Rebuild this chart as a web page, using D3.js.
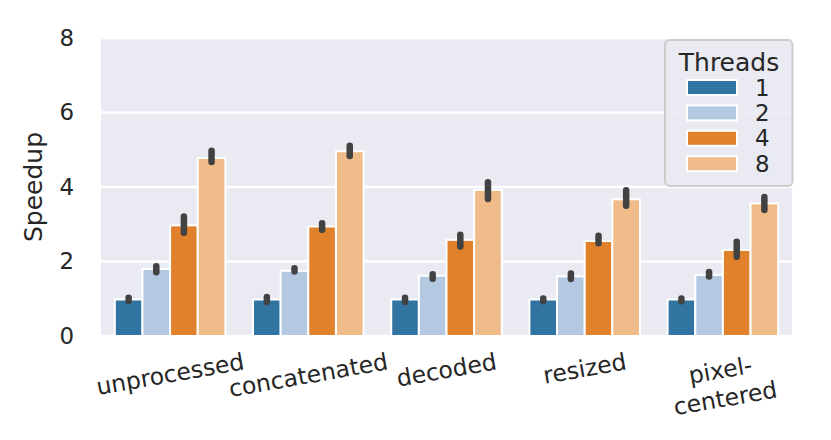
<!DOCTYPE html>
<html>
<head>
<meta charset="utf-8">
<script src="https://cdn.jsdelivr.net/npm/d3@7"></script>
<style>
  body { margin: 0; background: #fff; }
  text { font-family: "DejaVu Sans", sans-serif; fill: #262626; }
</style>
</head>
<body>
<div id="chart-area"></div>
<script>
// data
const stages = ["unprocessed", "concatenated", "decoded", "resized", "pixel-\ncentered"]
const threads = ["1", "2", "4", "8"]
const yTicks = [0, 2, 4, 6, 8]

const speedup1 = [0.98, 0.98, 0.98, 0.98, 0.98]
const speedup2 = [1.80, 1.75, 1.62, 1.60, 1.64]
const speedup4 = [2.97, 2.94, 2.58, 2.55, 2.31]
const speedup8 = [4.78, 4.96, 3.92, 3.67, 3.56]

const errLow1 = [0.94, 0.91, 0.91, 0.93, 0.93]
const errHigh1 = [1.03, 1.05, 1.03, 1.01, 1.01]
const errLow2 = [1.71, 1.73, 1.54, 1.53, 1.60]
const errHigh2 = [1.87, 1.82, 1.66, 1.68, 1.72]
const errLow4 = [2.77, 2.85, 2.40, 2.49, 2.13]
const errHigh4 = [3.21, 3.03, 2.72, 2.69, 2.53]
const errLow8 = [4.67, 4.83, 3.68, 3.50, 3.38]
const errHigh8 = [4.97, 5.11, 4.13, 3.91, 3.73]

const colors = ["#3274a1", "#b4c8e2", "#e1812c", "#eebb89"]

const series = [speedup1, speedup2, speedup4, speedup8]
const lows = [errLow1, errLow2, errLow4, errLow8]
const highs = [errHigh1, errHigh2, errHigh4, errHigh8]

const data = []
stages.forEach((s, i) => {
    threads.forEach((t, j) => {
        data.push({stage: s, thread: t, value: series[j][i], lo: lows[j][i], hi: highs[j][i]})
    })
})

const MARGIN = {LEFT: 101, RIGHT: 39, TOP: 38, BOTTOM: 104}
const W = 831, H = 440
const WIDTH = W - MARGIN.LEFT - MARGIN.RIGHT
const HEIGHT = H - MARGIN.TOP - MARGIN.BOTTOM

const svg = d3.select("#chart-area").append("svg")
    .attr("width", W)
    .attr("height", H)

const g = svg.append("g")
    .attr("transform", `translate(${MARGIN.LEFT}, ${MARGIN.TOP})`)

// background
g.append("rect")
    .attr("width", WIDTH)
    .attr("height", HEIGHT)
    .attr("fill", "#eaeaf2")

const x = d3.scaleBand()
    .domain(stages)
    .range([0, WIDTH])
    .paddingInner(0.2)
    .paddingOuter(0.1)

const x1 = d3.scaleBand()
    .domain(threads)
    .range([0, x.bandwidth()])

const y = d3.scaleLinear()
    .domain([0, 8])
    .range([HEIGHT, 0])

const color = d3.scaleOrdinal().domain(threads).range(colors)

// grid
g.selectAll(".grid").data(yTicks).enter().append("line")
    .attr("x1", 0).attr("x2", WIDTH)
    .attr("y1", d => y(d)).attr("y2", d => y(d))
    .attr("stroke", "#fff")
    .attr("stroke-width", 2.5)

// y axis labels
const yAxis = g.append("g").call(d3.axisLeft(y).tickValues(yTicks).tickSize(0).tickPadding(27))
yAxis.select(".domain").remove()
yAxis.selectAll("text")
    .attr("font-size", "22.9px")
    .attr("font-family", "DejaVu Sans")
    .attr("fill", "#262626")

// bars
g.selectAll(".bar").data(data).enter().append("rect")
    .attr("x", d => x(d.stage) + x1(d.thread))
    .attr("y", d => y(d.value))
    .attr("width", x1.bandwidth())
    .attr("height", d => HEIGHT - y(d.value))
    .attr("fill", d => color(d.thread))
    .attr("stroke", "#fff")
    .attr("stroke-width", 2)

// error bars
g.selectAll(".err").data(data).enter().append("line")
    .attr("x1", d => x(d.stage) + x1(d.thread) + x1.bandwidth() / 2)
    .attr("x2", d => x(d.stage) + x1(d.thread) + x1.bandwidth() / 2)
    .attr("y1", d => y(d.lo))
    .attr("y2", d => y(d.hi))
    .attr("stroke", "#424242")
    .attr("stroke-width", 6.5)
    .attr("stroke-linecap", "round")

// x labels, rotated 10 degrees
const lineH = 28.5
stages.forEach(s => {
    const lines = s.split("\n")
    const lg = g.append("g")
    const t = lg.append("text")
        .attr("text-anchor", "middle")
        .attr("font-size", "23.5px")
    lines.forEach((l, k) => {
        t.append("tspan")
            .attr("x", 0)
            .attr("y", (k - (lines.length - 1) / 2) * lineH)
            .attr("dy", "0.35em")
            .text(l)
    })
    let w = 0
    t.selectAll("tspan").each(function() { w = Math.max(w, this.getComputedTextLength()) })
    const a = 10 * Math.PI / 180
    const bh = w * Math.sin(a) + lines.length * lineH * Math.cos(a)
    lg.attr("transform", `translate(${x(s) + x.bandwidth() / 2}, ${HEIGHT + 11 + bh / 2}) rotate(-10)`)
})

// y label
svg.append("text")
    .attr("transform", `translate(33, ${MARGIN.TOP + HEIGHT / 2}) rotate(-90)`)
    .attr("text-anchor", "middle")
    .attr("dominant-baseline", "central")
    .attr("font-size", "25px")
    .text("Speedup")

// legend
const leg = svg.append("g").attr("transform", "translate(665, 40)")
leg.append("rect")
    .attr("width", 127.5)
    .attr("height", 146)
    .attr("rx", 5)
    .attr("fill", "#eaeaf2")
    .attr("fill-opacity", 0.8)
    .attr("stroke", "#cccccc")
    .attr("stroke-width", 2)

leg.append("text")
    .attr("x", 64)
    .attr("y", 22)
    .attr("text-anchor", "middle")
    .attr("dominant-baseline", "central")
    .attr("font-size", "25px")
    .text("Threads")

const rows = leg.selectAll(".row").data(threads).enter().append("g")
    .attr("transform", (d, i) => `translate(0, ${47.5 + i * 25.4})`)

rows.append("rect")
    .attr("x", 22)
    .attr("y", -7.5)
    .attr("width", 50)
    .attr("height", 15)
    .attr("fill", d => color(d))
    .attr("stroke", "#fff")
    .attr("stroke-width", 2)

rows.append("text")
    .attr("x", 90)
    .attr("dominant-baseline", "central")
    .attr("font-size", "22.9px")
    .text(d => d)
</script>
</body>
</html>
